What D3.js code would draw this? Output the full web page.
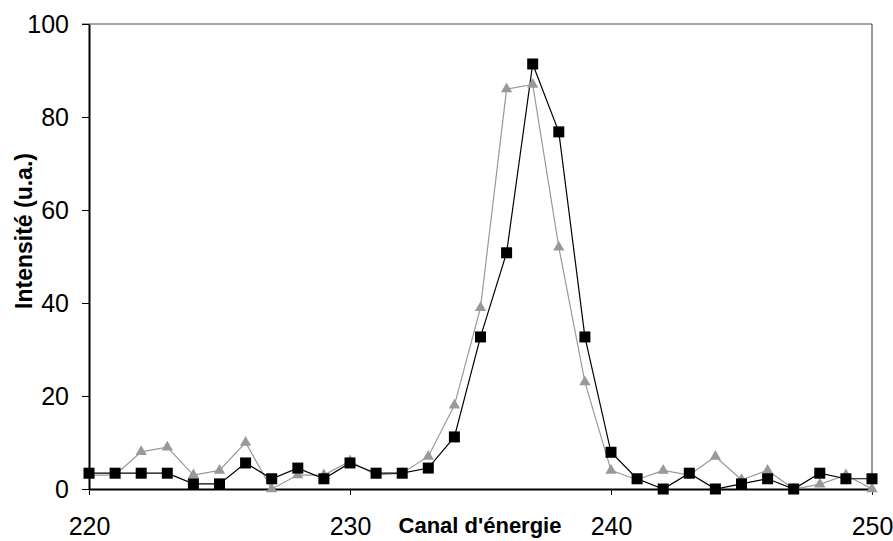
<!DOCTYPE html>
<html>
<head>
<meta charset="utf-8">
<script src="https://cdn.jsdelivr.net/npm/d3@7"></script>
<style>
  body { margin: 0; background: #fff; }
  svg { display: block; font-family: "Liberation Sans", Arial, sans-serif; }
</style>
</head>
<body>
<svg id="chart" width="893" height="541"></svg>
<script>
// channels 220..250
const channels = d3.range(220, 251);

const squareSeries = [
  3.4, 3.4, 3.4, 3.4, 1.1, 1.1, 5.6, 2.2, 4.5, 2.2,
  5.6, 3.4, 3.4, 4.5, 11.2, 32.7, 50.8, 91.4, 76.8, 32.7,
  7.9, 2.2, 0, 3.4, 0, 1.1, 2.2, 0, 3.4, 2.2, 2.2
];

const triangleSeries = [
  3, 3, 8, 9, 3, 4, 10, 0, 3, 3,
  6, 3, 3.4, 7, 18, 39, 86, 87, 52, 23,
  4, 2, 4, 3, 7, 2, 4, 0, 1, 3, 0
];

const xTicks = [220, 230, 240, 250];
const yTicks = [0, 20, 40, 60, 80, 100];

const xTitle = "Canal d'énergie";
const yTitle = "Intensité (u.a.)";

const svg = d3.select("#chart");
const margin = { left: 89, right: 21, top: 24, bottom: 52 };
const width = 893, height = 541;

const x = d3.scaleLinear().domain([220, 250]).range([margin.left, width - margin.right]);
const y = d3.scaleLinear().domain([0, 100]).range([height - margin.bottom, margin.top]);

// frame top + right (thin)
svg.append("line")
  .attr("x1", margin.left - 7).attr("x2", x(250))
  .attr("y1", y(100)).attr("y2", y(100))
  .attr("stroke", "#888").attr("stroke-width", 1.5);
svg.append("line")
  .attr("x1", x(250)).attr("x2", x(250))
  .attr("y1", y(100)).attr("y2", y(0))
  .attr("stroke", "#333").attr("stroke-width", 1);

// y axis
const yAxis = svg.append("g")
  .attr("transform", `translate(${margin.left},0)`)
  .call(d3.axisLeft(y).tickValues(yTicks).tickSize(7).tickPadding(13).tickSizeOuter(0));
yAxis.select(".domain").attr("stroke", "#000").attr("stroke-width", 2);
yAxis.selectAll("text").attr("font-size", 25).attr("fill", "#000").attr("font-family", "Liberation Sans, Arial, sans-serif");

// x axis
const xAxis = svg.append("g")
  .attr("transform", `translate(0,${y(0)})`)
  .call(d3.axisBottom(x).tickValues(xTicks).tickSize(6).tickPadding(22).tickSizeOuter(0));
xAxis.select(".domain").attr("stroke", "#000").attr("stroke-width", 2);
xAxis.selectAll("text").attr("font-size", 25).attr("fill", "#000").attr("font-family", "Liberation Sans, Arial, sans-serif");

// titles
svg.append("text")
  .attr("x", 480).attr("y", 533)
  .attr("text-anchor", "middle")
  .attr("font-size", 22).attr("font-weight", "bold")
  .text(xTitle);
svg.append("text")
  .attr("transform", "translate(32,231) rotate(-90)")
  .attr("text-anchor", "middle")
  .attr("font-size", 23).attr("font-weight", "bold")
  .text(yTitle);

const line = d3.line().x((d, i) => x(channels[i])).y(d => y(d));

// gray triangles series
svg.append("path")
  .datum(triangleSeries)
  .attr("d", line)
  .attr("fill", "none").attr("stroke", "#999").attr("stroke-width", 1.2);

// black squares series line
svg.append("path")
  .datum(squareSeries)
  .attr("d", line)
  .attr("fill", "none").attr("stroke", "#000").attr("stroke-width", 1.2);

const tri = d3.symbol().type(d3.symbolTriangle).size(55);
svg.append("g").selectAll("path")
  .data(triangleSeries)
  .join("path")
  .attr("d", tri)
  .attr("transform", (d, i) => `translate(${x(channels[i])},${y(d)})`)
  .attr("fill", "#999");

svg.append("g").selectAll("rect")
  .data(squareSeries)
  .join("rect")
  .attr("x", (d, i) => x(channels[i]) - 5.5)
  .attr("y", d => y(d) - 5.5)
  .attr("width", 11).attr("height", 11)
  .attr("fill", "#000");
</script>
</body>
</html>
